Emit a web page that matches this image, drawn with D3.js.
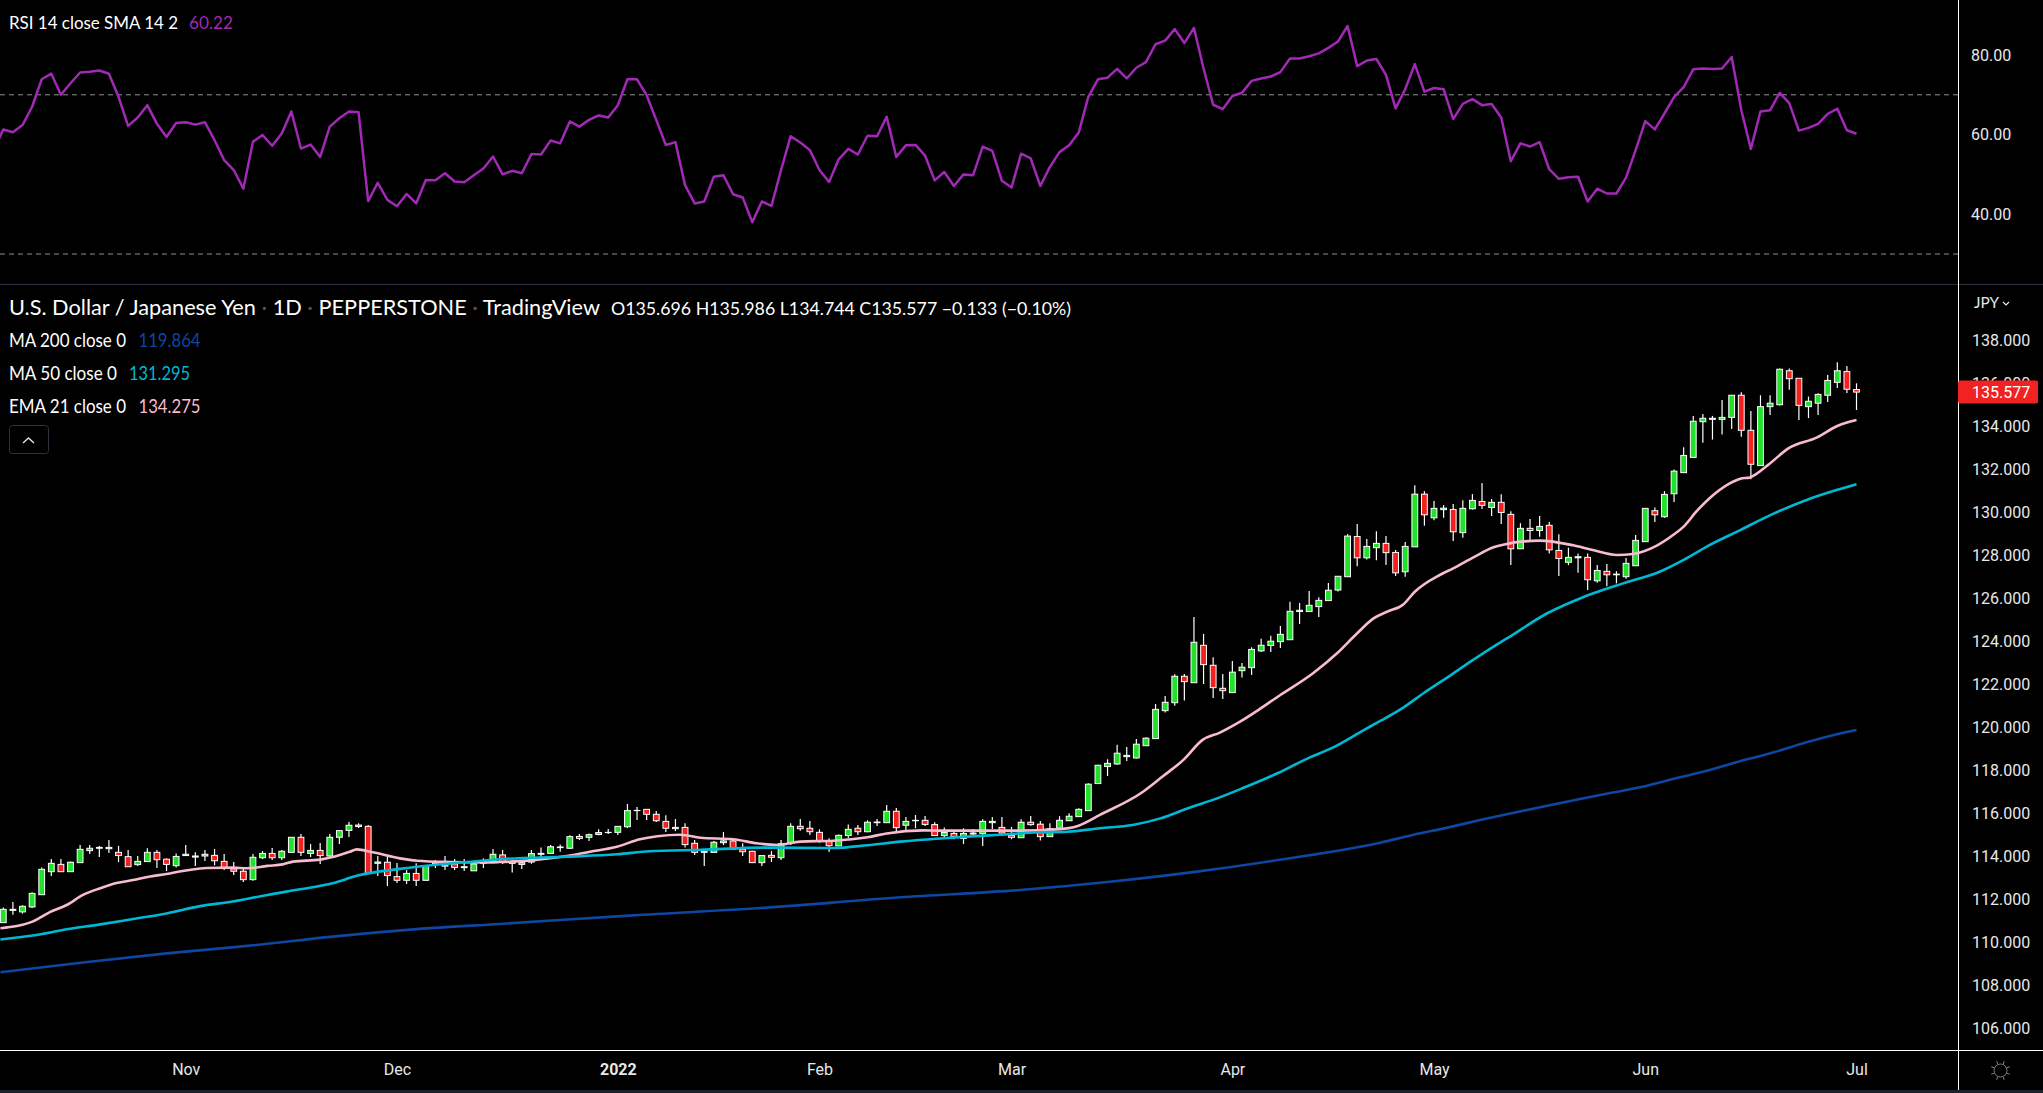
<!DOCTYPE html>
<html lang="en">

<head>
    <meta charset="utf-8">
    <script src="https://cdnjs.cloudflare.com/ajax/libs/d3/7.8.5/d3.min.js"></script>
    <style>
        html, body { margin: 0; padding: 0; background: #000; overflow: hidden; }
        text { font-family: Lato, "Open Sans", sans-serif; }
    </style>
</head>

<body>
    <script>
        var w = 2043;
        var h = 1093;

        // USDJPY daily candles
        var opens = [
            110.90,111.47,111.40,111.63,112.20,113.27,113.61,113.27,113.69,114.25,
            114.36,114.34,114.17,113.97,113.60,113.74,114.17,113.85,113.55,114.02,
            113.95,114.00,114.03,113.75,113.40,113.29,112.90,113.92,114.12,113.92,
            114.17,114.87,114.12,114.26,114.00,114.87,115.19,115.37,115.38,113.66,
            113.71,113.04,112.87,113.19,112.87,113.63,113.53,113.63,113.46,113.31,
            113.66,113.74,114.05,113.66,113.61,113.72,114.08,114.12,114.39,114.36,
            114.91,114.87,115.00,115.09,115.10,115.36,116.11,116.17,115.94,115.61,
            115.33,115.33,114.59,114.17,114.17,114.62,114.70,114.31,114.22,113.69,
            114.03,113.92,114.62,115.38,115.29,115.10,114.71,114.47,114.95,115.29,
            115.13,115.55,115.55,116.08,115.43,115.64,115.66,115.46,114.95,115.05,
            114.82,115.02,115.05,115.55,115.33,114.96,114.85,115.57,115.48,114.90,
            115.29,115.64,115.83,116.11,117.37,118.16,118.28,118.62,118.56,119.13,
            119.46,120.76,121.13,122.36,122.06,123.80,122.87,121.80,121.60,122.62,
            122.76,123.54,123.79,123.97,124.06,125.37,125.37,125.60,125.88,126.37,
            126.99,128.86,127.87,128.34,128.54,128.12,127.22,128.38,130.83,129.73,
            130.11,130.12,129.04,130.15,130.49,130.21,130.45,129.89,128.29,129.24,
            129.14,129.38,128.21,127.66,127.87,127.89,126.80,127.24,127.08,126.99,
            127.50,128.62,130.06,129.78,130.85,131.83,132.54,134.20,134.31,134.31,
            134.40,135.43,133.80,132.16,134.90,134.99,136.57,136.22,134.90,135.06,
            135.43,136.03,136.53,135.696
        ];
        var highs = [
            111.61,111.86,111.71,112.31,113.47,113.86,113.86,113.74,114.51,114.51,
            114.47,114.74,114.47,114.28,114.00,114.36,114.28,113.89,114.12,114.51,
            114.17,114.28,114.33,114.09,113.72,113.43,114.09,114.23,114.37,114.28,
            114.88,115.02,114.56,114.61,115.02,115.19,115.58,115.52,115.44,114.00,
            113.95,113.67,113.35,113.66,113.58,113.81,114.00,113.86,113.86,113.69,
            113.89,114.33,114.28,113.81,113.74,114.28,114.40,114.51,114.54,114.96,
            115.02,115.05,115.24,115.26,115.40,116.42,116.28,116.19,116.09,115.89,
            115.72,115.52,114.74,114.28,114.70,115.12,114.82,114.59,114.25,114.05,
            114.23,114.74,115.52,115.72,115.63,115.24,114.82,115.00,115.47,115.44,
            115.66,115.72,116.37,116.23,115.81,115.91,115.86,115.57,115.33,115.21,
            115.29,115.26,115.71,115.81,115.81,115.35,115.71,115.86,115.63,115.52,
            115.85,115.99,116.22,117.38,118.25,118.50,119.17,119.07,119.44,119.52,
            121.07,121.44,122.45,122.47,125.12,124.33,123.24,122.47,123.07,122.98,
            123.71,124.10,124.25,124.70,125.82,125.77,126.33,126.03,126.70,127.01,
            128.97,129.44,128.74,129.11,128.88,128.23,128.60,131.25,130.97,130.51,
            130.32,130.37,130.55,130.83,131.35,130.60,130.83,130.03,129.48,129.67,
            129.81,129.53,128.97,128.34,128.07,128.07,127.53,127.58,127.25,127.86,
            128.93,130.17,130.21,130.97,131.98,133.01,134.47,134.56,134.47,135.21,
            135.43,135.57,134.70,135.43,135.43,136.68,136.68,136.22,135.37,135.52,
            136.37,136.96,136.79,135.986
        ];
        var lows = [
            110.90,111.27,111.32,111.58,112.20,113.07,113.27,113.27,113.69,114.09,
            113.95,114.14,113.72,113.50,113.53,113.74,113.44,113.30,113.46,114.02,
            113.53,113.77,113.57,113.35,113.12,112.79,112.85,113.86,113.81,113.81,
            114.17,114.00,113.95,113.63,113.97,114.56,114.88,115.30,113.16,113.07,
            112.60,112.75,112.70,112.60,112.84,113.44,113.35,113.35,113.30,113.31,
            113.44,113.69,113.63,113.23,113.40,113.64,113.81,114.09,114.20,114.33,
            114.74,114.70,114.96,115.02,114.98,115.30,115.67,115.67,115.58,115.12,
            115.16,114.40,114.05,113.54,114.16,114.51,114.28,114.00,113.69,113.54,
            113.72,113.81,114.51,115.18,114.98,114.62,114.19,114.47,114.82,114.98,
            115.10,115.40,115.55,115.12,115.13,115.29,115.40,114.93,114.87,114.78,
            114.56,114.93,114.47,115.26,114.98,114.78,114.85,115.41,114.72,114.90,
            115.29,115.64,115.83,116.11,117.37,117.72,118.24,118.42,118.53,119.13,
            119.46,120.67,120.99,121.23,122.06,122.00,121.35,121.30,121.60,122.30,
            122.42,123.49,123.49,123.68,124.06,124.79,125.37,125.12,125.88,126.30,
            126.99,127.48,127.79,127.76,127.53,127.02,126.99,128.38,129.36,129.62,
            129.73,128.65,128.80,130.11,130.14,129.81,129.44,127.53,128.29,128.69,
            128.85,128.07,127.02,127.53,127.17,126.37,126.71,126.55,126.68,126.90,
            127.50,128.62,129.53,129.73,130.46,131.83,132.54,133.22,133.37,133.60,
            133.86,133.50,131.52,132.16,134.51,134.95,135.69,134.28,134.37,134.51,
            135.12,135.77,135.54,134.744
        ];
        var closes = [
            111.52,111.52,111.66,112.26,113.38,113.66,113.27,113.71,114.31,114.36,
            114.40,114.40,114.02,113.50,113.75,114.17,113.83,113.61,113.98,114.08,
            114.00,114.08,113.78,113.43,113.29,112.90,113.94,114.12,113.92,114.22,
            114.87,114.17,114.26,114.02,114.87,115.18,115.43,115.44,113.19,113.72,
            113.09,112.87,113.19,112.87,113.53,113.69,113.66,113.47,113.50,113.63,
            113.74,114.08,113.74,113.74,113.69,114.11,114.12,114.43,114.42,114.90,
            114.82,114.99,115.09,115.10,115.38,116.11,116.12,115.94,115.64,115.29,
            115.27,114.53,114.17,114.22,114.64,114.70,114.31,114.20,113.69,114.02,
            113.94,114.57,115.38,115.27,115.13,114.71,114.48,114.96,115.24,115.13,
            115.57,115.58,116.08,115.32,115.61,115.66,115.47,114.95,115.09,114.90,
            115.05,115.07,115.61,115.61,115.07,114.87,115.57,115.46,114.90,115.27,
            115.66,115.85,116.17,117.34,118.22,118.31,118.78,118.68,119.20,119.48,
            120.82,121.15,122.36,122.11,123.94,122.90,121.83,121.69,122.55,122.78,
            123.61,123.80,123.99,124.31,125.38,125.43,125.66,125.89,126.36,127.01,
            128.88,127.87,128.40,128.54,128.11,127.17,128.40,130.83,129.87,130.17,
            130.18,129.08,130.17,130.54,130.31,130.45,129.98,128.29,129.24,129.14,
            129.33,128.24,127.84,127.89,127.92,126.85,127.28,127.08,127.11,127.61,
            128.68,130.17,129.87,130.82,131.90,132.63,134.22,134.36,134.36,134.40,
            135.43,133.80,132.22,134.90,135.06,136.64,136.20,134.96,135.15,135.47,
            136.12,136.57,135.71,135.577
        ];

        // RSI starts one bar before the first candle, off the left edge
        var rsiValues = [
            56.1,
            61.3,60.6,62.4,67.0,73.9,75.3,70.0,72.9,75.6,75.8,
            76.1,75.3,69.5,62.2,64.3,67.4,62.7,59.4,62.9,63.1,
            62.5,63.1,58.6,53.6,51.1,46.4,58.2,59.9,57.2,60.3,
            65.8,56.5,57.5,54.4,62.0,64.1,65.8,65.6,43.3,47.9,
            43.6,42.0,45.1,42.7,48.6,48.5,50.3,48.2,48.0,49.8,
            51.5,54.5,50.0,50.9,50.3,55.1,55.0,58.5,57.8,63.3,
            62.0,63.7,64.8,64.3,67.4,73.9,73.9,69.9,63.7,57.4,
            58.1,
            47.3,42.7,43.2,49.4,49.8,45.0,44.2,38.0,43.2,42.1,
            51.1,59.6,58.0,56.1,51.1,48.1,53.8,56.4,55.0,59.7,
            59.6,64.5,54.4,57.3,57.4,54.7,48.5,50.6,47.1,50.0,
            49.8,57.0,55.9,48.4,46.7,55.2,54.0,47.1,51.9,55.6,
            57.3,60.5,69.5,73.9,74.3,76.5,74.1,76.8,78.2,82.7,
            83.6,86.5,83.0,86.8,76.6,67.5,66.4,69.7,70.5,73.5,
            74.1,74.6,75.7,79.1,79.1,79.7,80.4,81.8,83.4,87.3,
            77.2,
            78.6,79.0,75.0,66.6,71.4,77.7,70.8,71.7,71.4,63.9,
            67.7,68.9,67.4,67.7,64.3,53.3,57.8,57.0,58.1,51.3,
            48.9,49.3,49.4,43.2,46.4,45.2,45.2,49.2,56.1,63.4,
            61.3,65.3,69.4,71.9,76.4,76.6,76.5,76.6,79.5,66.2,
            56.4,65.8,66.1,70.5,67.9,61.0,61.7,62.7,65.2,66.5,
            61.1,60.22
        ];

        // moving averages, read at the bars where they could be read
        var ma200Bars = [-0.3,8.3,17.0,25.7,34.3,43.1,51.7,65.6,79.5,93.4,
            105.9,115.0,124.1,133.3,143.4,146.8,150.4,153.8,157.2,160.8,
            164.2,167.6,171.2,174.6,176.7,181.6,184.3,187.8,191.3,193];
        var ma200Values = [108.59,109.05,109.47,109.83,110.25,110.60,110.84,111.24,111.60,112.08,
            112.42,112.79,113.26,113.85,114.62,114.98,115.32,115.67,116.00,116.34,
            116.65,116.95,117.27,117.66,117.88,118.50,118.81,119.29,119.70,119.864];

        var ma50Bars = [-0.3,3.1,6.6,10.1,13.5,17.0,20.5,23.9,27.5,30.9,
            34.3,36.9,41.3,44.8,48.3,51.7,58.7,63.9,67.3,72.6,
            79.5,86.4,90.0,93.4,96.8,100.4,103.8,107.2,110.8,114.2,
            117.6,120.5,123.6,126.4,129.1,132.7,135.8,138.5,142.0,143.4,
            145.8,147.9,150.4,152.8,155.2,156.6,160.8,164.2,168.7,172.5,
            175.0,177.4,180.9,184.3,187.8,191.3,193];
        var ma50Values = [110.12,110.30,110.59,110.82,111.07,111.33,111.67,111.88,112.19,112.45,
            112.73,113.09,113.40,113.58,113.72,113.85,113.97,114.08,114.22,114.29,
            114.39,114.37,114.50,114.67,114.79,114.90,114.99,115.09,115.13,115.29,
            115.44,115.75,116.26,116.68,117.16,117.85,118.53,119.05,119.94,120.28,
            120.90,121.57,122.31,123.04,123.74,124.12,125.29,125.98,126.68,127.22,
            127.77,128.39,129.16,129.91,130.56,131.07,131.295];

        var ema21Bars = [-0.3,1.4,3.1,4.9,6.6,8.3,10.1,11.8,13.5,15.3,
            17.0,18.7,21.2,23.9,25.4,27.5,29.1,30.2,33.0,34.3,
            36.1,36.8,38.5,41.3,43.1,46.5,50.0,51.7,55.2,58.7,
            61.1,63.9,66.3,68.1,70.5,72.6,76.0,78.5,80.6,83.0,
            86.4,90.0,92.0,95.8,97.6,102.0,105.9,109.7,111.9,114.2,
            118.7,120.8,122.9,124.9,126.7,128.8,133.0,136.4,138.9,141.0,
            142.7,144.1,145.8,147.0,149.6,151.0,153.1,155.2,156.2,160.0,
            163.5,165.3,168.1,169.7,172.2,173.9,175.0,176.4,177.7,179.8,
            180.9,181.9,183.8,185.9,188.9,191.0,193];
        var ema21Values = [110.64,110.74,110.96,111.40,111.72,112.19,112.50,112.74,112.88,113.05,
            113.16,113.30,113.44,113.46,113.43,113.54,113.61,113.74,113.83,113.95,
            114.20,114.31,114.17,113.89,113.78,113.72,113.70,113.72,113.81,114.00,
            114.20,114.43,114.78,114.92,114.99,114.85,114.78,114.59,114.51,114.67,
            114.71,114.87,115.05,115.19,115.18,115.18,115.18,115.24,115.40,115.91,
            116.99,117.72,118.47,119.40,119.74,120.25,121.49,122.50,123.43,124.36,
            125.05,125.36,125.70,126.29,127.07,127.38,127.89,128.36,128.48,128.67,
            128.45,128.26,128.00,128.05,128.44,128.93,129.32,130.06,130.64,131.33,
            131.55,131.61,132.19,132.96,133.47,134.00,134.275];

        var priceTicks = d3.range(106, 139, 2);
        var rsiTicks = [40, 60, 80];
        var rsiBands = [30, 70];
        var monthBars = [19, 41, 64, 85, 105, 128, 149, 171, 193];
        var monthLabels = ["Nov", "Dec", "2022", "Feb", "Mar", "Apr", "May", "Jun", "Jul"];
        var lastPrice = 135.577;

        var axisX = 1958;
        var paneTop = 284;
        var paneBottom = 1050;

        var x = d3.scaleLinear().domain([0, 193]).range([3.3, 1856.5]);
        var y = d3.scaleLinear().domain([106, 138]).range([1028, 340]);
        var yRsi = d3.scaleLinear().domain([40, 80]).range([214.2, 55]);

        var svg = d3.select("body").append("svg")
            .attr("width", w)
            .attr("height", h)
            .style("display", "block")
            .style("background", "#000");

        svg.append("clipPath").attr("id", "rsiClip").append("rect")
            .attr("x", 0).attr("y", 0).attr("width", axisX).attr("height", paneTop);
        svg.append("clipPath").attr("id", "priceClip").append("rect")
            .attr("x", 0).attr("y", paneTop).attr("width", axisX).attr("height", paneBottom - paneTop);

        //rsi pane
        var rsiPane = svg.append("g").attr("clip-path", "url(#rsiClip)");

        rsiPane.selectAll("line")
            .data(rsiBands)
            .enter()
            .append("line")
            .attr("x1", 0)
            .attr("x2", axisX)
            .attr("y1", d => yRsi(d))
            .attr("y2", d => yRsi(d))
            .attr("stroke", "#8f8f96")
            .attr("stroke-width", 1)
            .attr("stroke-dasharray", "5 4");

        rsiPane.append("path")
            .datum(rsiValues)
            .attr("fill", "none")
            .attr("stroke", "#a229b5")
            .attr("stroke-width", 2.5)
            .attr("stroke-linejoin", "round")
            .attr("d", d3.line().x((d, i) => x(i - 1)).y(d => yRsi(d)));

        //candles
        var pricePane = svg.append("g").attr("clip-path", "url(#priceClip)");

        var candles = pricePane.selectAll("g.candle")
            .data(d3.range(opens.length))
            .enter()
            .append("g")
            .attr("class", "candle");

        candles.append("line")
            .attr("x1", i => x(i))
            .attr("x2", i => x(i))
            .attr("y1", i => y(highs[i]))
            .attr("y2", i => y(lows[i]))
            .attr("stroke", "#fff")
            .attr("stroke-width", 1.2);

        candles.append("rect")
            .attr("x", i => x(i) - 2.9)
            .attr("width", 5.8)
            .attr("y", i => y(Math.max(opens[i], closes[i])))
            .attr("height", i => Math.abs(y(opens[i]) - y(closes[i])))
            .attr("fill", i => closes[i] >= opens[i] ? "#20e22b" : "#f41f1f")
            .attr("stroke", "#fff")
            .attr("stroke-width", 1);

        //moving averages
        function drawAverage(bars, values, color) {
            pricePane.append("path")
                .datum(d3.zip(bars, values))
                .attr("fill", "none")
                .attr("stroke", color)
                .attr("stroke-width", 2.6)
                .attr("stroke-linejoin", "round")
                .attr("d", d3.line().curve(d3.curveMonotoneX).x(d => x(d[0])).y(d => y(d[1])));
        }
        drawAverage(ma200Bars, ma200Values, "#0d47a1");
        drawAverage(ema21Bars, ema21Values, "#f8bbd0");
        drawAverage(ma50Bars, ma50Values, "#00b8d4");

        //pane lines
        svg.append("line").attr("x1", 0).attr("x2", w).attr("y1", paneTop + 0.5).attr("y2", paneTop + 0.5)
            .attr("stroke", "#2f323d");
        svg.append("line").attr("x1", axisX + 0.5).attr("x2", axisX + 0.5).attr("y1", 0).attr("y2", 1090)
            .attr("stroke", "#fff");
        svg.append("line").attr("x1", 0).attr("x2", w).attr("y1", paneBottom + 0.5).attr("y2", paneBottom + 0.5)
            .attr("stroke", "#fff");
        svg.append("rect").attr("x", 0).attr("y", 1090).attr("width", w).attr("height", 3)
            .attr("fill", "#1e222d");

        //axes
        function styleAxis(g) {
            g.select(".domain").remove();
            g.selectAll("text")
                .attr("fill", "#e8e8e8")
                .style("font-family", "Roboto, sans-serif")
                .style("font-size", "16px");
        }

        svg.append("g")
            .attr("transform", "translate(" + axisX + ",0)")
            .call(d3.axisRight(y).tickValues(priceTicks).tickFormat(d3.format(".3f")).tickSize(0).tickPadding(14))
            .call(styleAxis);

        svg.append("g")
            .attr("transform", "translate(" + axisX + ",0)")
            .call(d3.axisRight(yRsi).tickValues(rsiTicks).tickFormat(d3.format(".2f")).tickSize(0).tickPadding(13))
            .call(styleAxis);

        svg.append("g")
            .attr("transform", "translate(0," + paneBottom + ")")
            .call(d3.axisBottom(x).tickValues(monthBars).tickFormat((d, i) => monthLabels[i]).tickSize(0).tickPadding(13.5))
            .call(styleAxis)
            .selectAll("text")
            .style("font-weight", d => d == 64 ? "bold" : "normal");

        //last price tag
        svg.append("rect")
            .attr("x", axisX)
            .attr("y", y(lastPrice) - 11.5)
            .attr("width", 80)
            .attr("height", 23)
            .attr("rx", 2)
            .attr("fill", "#f02222");
        svg.append("text")
            .attr("x", 1972)
            .attr("y", y(lastPrice) + 6)
            .attr("fill", "#fff")
            .style("font-family", "Roboto, sans-serif")
            .style("font-size", "16px")
            .text(d3.format(".3f")(lastPrice));

        //legends, sized to the widths in the reference
        function label(tx, ty, size, color, width, str) {
            svg.append("text")
                .attr("x", tx)
                .attr("y", ty)
                .attr("fill", color)
                .attr("textLength", width)
                .attr("lengthAdjust", "spacingAndGlyphs")
                .style("font-size", size + "px")
                .html(str);
        }

        var dot = " <tspan fill='#555'>·</tspan> ";

        label(9, 29, 18, "#fff", 169, "RSI 14 close SMA 14 2");
        label(189, 29, 18, "#a229b5", 44, "60.22");

        label(9, 315, 21, "#fff", 591, "U.S. Dollar / Japanese Yen" + dot + "1D" + dot + "PEPPERSTONE" + dot + "TradingView");
        label(611, 315, 17, "#fff", 460, "O135.696  H135.986  L134.744  C135.577  −0.133 (−0.10%)");

        label(9, 347, 19, "#fff", 117, "MA 200 close 0");
        label(138.5, 347, 19, "#0d47a1", 62, "119.864");
        label(9, 380, 19, "#fff", 108, "MA 50 close 0");
        label(129, 380, 19, "#00b8d4", 61, "131.295");
        label(9, 413, 19, "#fff", 117, "EMA 21 close 0");
        label(138.5, 413, 19, "#f8bbd0", 62, "134.275");

        label(1974, 308, 15, "#e8e8e8", 25, "JPY");
        svg.append("path")
            .attr("d", "M2003,302 l3,3 l3,-3")
            .attr("fill", "none")
            .attr("stroke", "#e8e8e8")
            .attr("stroke-width", 1.2);

        //collapse button
        svg.append("rect")
            .attr("x", 9.5).attr("y", 425.5).attr("width", 39).attr("height", 28).attr("rx", 3)
            .attr("fill", "none")
            .attr("stroke", "#2f323d");
        svg.append("path")
            .attr("d", "M23,443 l5.5,-5 l5.5,5")
            .attr("fill", "none")
            .attr("stroke", "#e4e4e4")
            .attr("stroke-width", 1.4);

        //sun icon
        var sun = svg.append("g").attr("transform", "translate(2000.5,1070.5)")
            .attr("stroke", "#787b86").attr("fill", "none");
        sun.append("circle").attr("r", 6.5);
        sun.selectAll("line")
            .data(d3.range(8))
            .enter()
            .append("line")
            .attr("y1", -7)
            .attr("y2", -10)
            .attr("transform", d => "rotate(" + (d * 45 + 22.5) + ")");
    </script>
</body>

</html>
